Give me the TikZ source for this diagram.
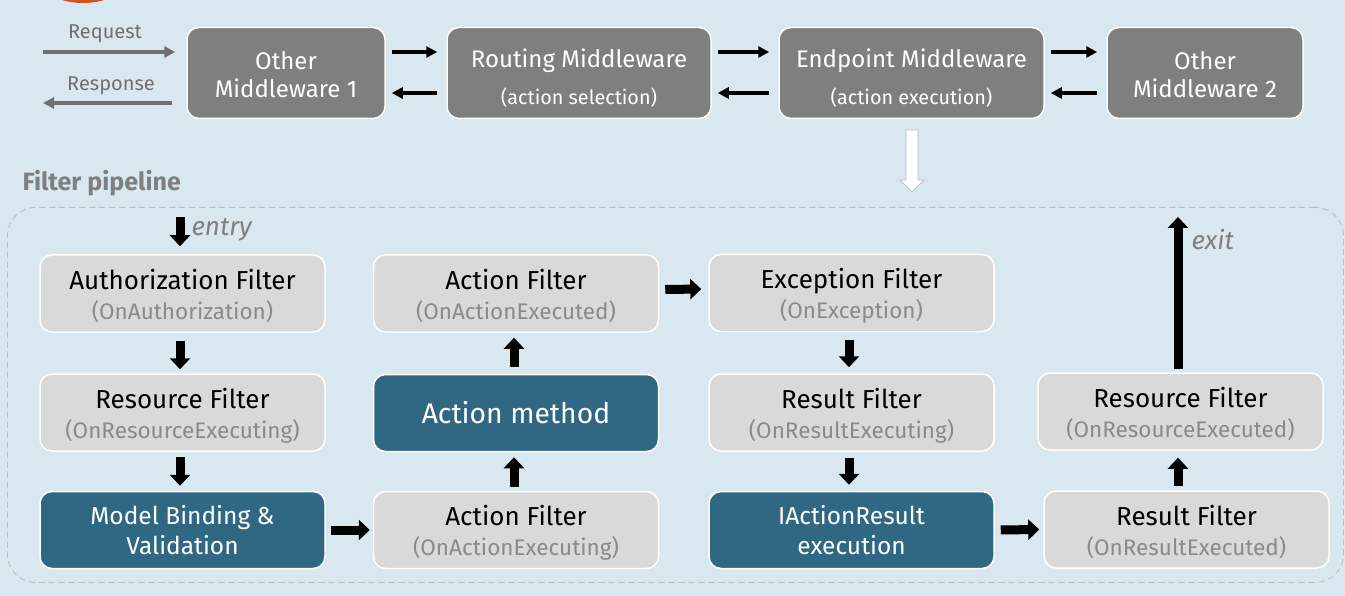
\documentclass[tikz,border=0pt]{standalone}
\usepackage{fontspec}
\setmainfont{Fira Sans}
\usetikzlibrary{arrows.meta}
\definecolor{bgblue}{HTML}{D8E7F0}
\definecolor{logoorange}{HTML}{D4511E}
\definecolor{mwgray}{HTML}{7F7F7F}
\definecolor{fltgray}{HTML}{D9D9D9}
\definecolor{darkblue}{HTML}{306884}
\definecolor{subgray}{HTML}{8A8A8A}
\definecolor{labgray}{HTML}{707070}
\definecolor{dashgray}{HTML}{BDBDBD}
\definecolor{outlinegray}{HTML}{BFBFBF}
\newcommand{\subtxt}[1]{{\color{subgray}\fontsize{22.5}{26}\selectfont #1}}
\newcommand{\mwsub}[1]{{\fontsize{19.8}{22}\selectfont #1}}
\newcommand{\upstrut}{\rule{0pt}{26pt}}
\newcommand{\mwstrut}{\rule{0pt}{22pt}}
\newcommand{\rtstrut}{\rule{0pt}{28pt}}
\tikzset{
  mwbox/.style={draw=white, line width=1.5pt, fill=mwgray, rounded corners=12pt,
    text=white, align=center, minimum height=91pt, inner sep=0pt,
    font=\fontsize{24}{29}\selectfont},
  fltbox/.style={draw=white, line width=1.5pt, fill=fltgray, rounded corners=12pt,
    align=center, minimum width=285pt, minimum height=77pt, inner sep=0pt,
    font=\fontsize{26}{30}\selectfont},
  blkbox/.style={fltbox, fill=darkblue, text=white, font=\fontsize{24.5}{30}\selectfont},
  bigarrow/.style={line width=9pt, -{Triangle[width=20pt,length=11pt]}},
  midarrow/.style={line width=4pt, -{Triangle[width=11pt,length=11pt]}},
  grayarrow/.style={draw=labgray, line width=4pt, -{Triangle[width=11pt,length=11pt]}},
}
\begin{document}
\begin{tikzpicture}[x=1pt,y=-1pt]
\useasboundingbox (0,0) rectangle (1345,596);
\clip (0,0) rectangle (1345,596);
\fill[bgblue] (0,0) rectangle (1345,596);
\fill[logoorange] (83,-72) circle[radius=75pt];

% top row
\node[mwbox, minimum width=198pt] (mw1) at (286,73) {\mwstrut Other\\[-1pt]Middleware 1};
\node[mwbox, minimum width=264pt] (rt) at (579,73) {\rtstrut Routing Middleware\\[8pt]\mwsub{(action selection)}};
\node[mwbox, minimum width=265pt] (ep) at (911.5,73) {\rtstrut Endpoint Middleware\\[8pt]\mwsub{(action execution)}};
\node[mwbox, minimum width=196pt] (mw2) at (1205,73) {\mwstrut Other\\[-1pt]Middleware 2};

\coordinate (reqstart) at (43,52);
\coordinate (resend) at (43,103);
\draw[grayarrow, shorten >=11pt] (reqstart) -- ([yshift=21pt]mw1.west);
\draw[grayarrow, shorten <=14pt] ([yshift=-30pt]mw1.west) -- (resend);
\node[text=labgray, font=\fontsize{20}{22}\selectfont] (reqlab) at (105,34) {Request};
\node[text=labgray, font=\fontsize{20}{22}\selectfont] (reslab) at (111,86) {Response};

\foreach \a/\b in {mw1/rt, rt/ep, ep/mw2}{
  \draw[midarrow, shorten <=6pt, shorten >=9pt] ([yshift=21pt]\a.east) -- ([yshift=21pt]\b.west);
  \draw[midarrow, shorten <=9pt, shorten >=6pt] ([yshift=-20pt]\b.west) -- ([yshift=-20pt]\a.east);
}

% hollow arrow
\draw[fill=white, draw=outlinegray, line width=0.8pt]
  (906,130) -- (918,130) -- (918,180) -- (924,180) -- (912,192) -- (900,180) -- (906,180) -- cycle;

% pipeline
\node[text=mwgray, font=\bfseries\fontsize{25}{28}\selectfont, anchor=west] (pipelab) at (19,183) {Filter pipeline};
\node[draw=dashgray, line width=0.9pt, dash pattern=on 6pt off 4pt, rounded corners=28pt,
  minimum width=1336pt, minimum height=375pt, anchor=north west, inner sep=0pt] (pipeline) at (7,207) {};

% filter boxes
\node[fltbox] (auth) at (182.5,293.5) {\upstrut Authorization Filter\\\subtxt{(OnAuthorization)}};
\node[fltbox] (resx) at (182.5,412.5) {\upstrut Resource Filter\\\subtxt{(OnResourceExecuting)}};
\node[blkbox] (mb) at (182.5,530) {Model Binding \&\\Validation};

\node[fltbox] (afd) at (516,293.5) {\upstrut Action Filter\\\subtxt{(OnActionExecuted)}};
\node[blkbox, font=\fontsize{28.3}{32}\selectfont] (am) at (516,413) {Action method};
\node[fltbox] (afg) at (516,530) {\upstrut Action Filter\\\subtxt{(OnActionExecuting)}};

\node[fltbox] (exc) at (851.5,293) {\upstrut Exception Filter\\\subtxt{(OnException)}};
\node[fltbox] (rfg) at (851.5,412.5) {\upstrut Result Filter\\\subtxt{(OnResultExecuting)}};
\node[blkbox] (iar) at (851.5,530) {IActionResult\\execution};

\node[fltbox] (rod) at (1180.5,411.5) {\upstrut Resource Filter\\\subtxt{(OnResourceExecuted)}};
\node[fltbox] (rfd) at (1186.5,529.5) {\upstrut Result Filter\\\subtxt{(OnResultExecuted)}};

% arrows in pipeline
\coordinate (entrypt) at (180,217);
\coordinate (exitpt) at (1178,217);
\draw[bigarrow, shorten >=8pt] (entrypt) -- ([xshift=-2.5pt]auth.north);
\node[text=mwgray, font=\itshape\fontsize{26}{28}\selectfont, anchor=west] (entrylab) at (188,230) {entry};
\draw[bigarrow, shorten <=8pt, shorten >=4pt] ([xshift=-2.5pt]auth.south) -- ([xshift=-2.5pt]resx.north);
\draw[bigarrow, shorten <=5pt, shorten >=5pt] ([xshift=-2.5pt]resx.south) -- ([xshift=-2.5pt]mb.north);
\draw[bigarrow, shorten <=5pt, shorten >=3pt] (mb.east) -- (afg.west);
\draw[bigarrow, shorten <=4pt, shorten >=5pt] ([xshift=-2pt]afg.north) -- ([xshift=-2pt]am.south);
\draw[bigarrow, shorten <=7pt, shorten >=5pt] ([xshift=-2pt]am.north) -- ([xshift=-2pt]afd.south);
\draw[bigarrow, shorten <=6pt, shorten >=7pt] ([yshift=4pt]afd.east) -- ([yshift=4pt]exc.west);
\draw[bigarrow, shorten <=8pt, shorten >=6pt] ([xshift=-2.5pt]exc.south) -- ([xshift=-2.5pt]rfg.north);
\draw[bigarrow, shorten <=6pt, shorten >=6pt] ([xshift=-2.5pt]rfg.south) -- ([xshift=-2.5pt]iar.north);
\draw[bigarrow, shorten <=6pt, shorten >=4pt] (iar.east) -- (rfd.west);
\draw[bigarrow, shorten <=4pt, shorten >=7pt] ([xshift=-8.5pt]rfd.north) -- ([xshift=-2.5pt]rod.south);
\draw[bigarrow, shorten <=3pt] ([xshift=-2.5pt]rod.north) -- (exitpt);
\node[text=mwgray, font=\itshape\fontsize{26}{28}\selectfont, anchor=west] (exitlab) at (1188,240) {exit};
\end{tikzpicture}
\end{document}
